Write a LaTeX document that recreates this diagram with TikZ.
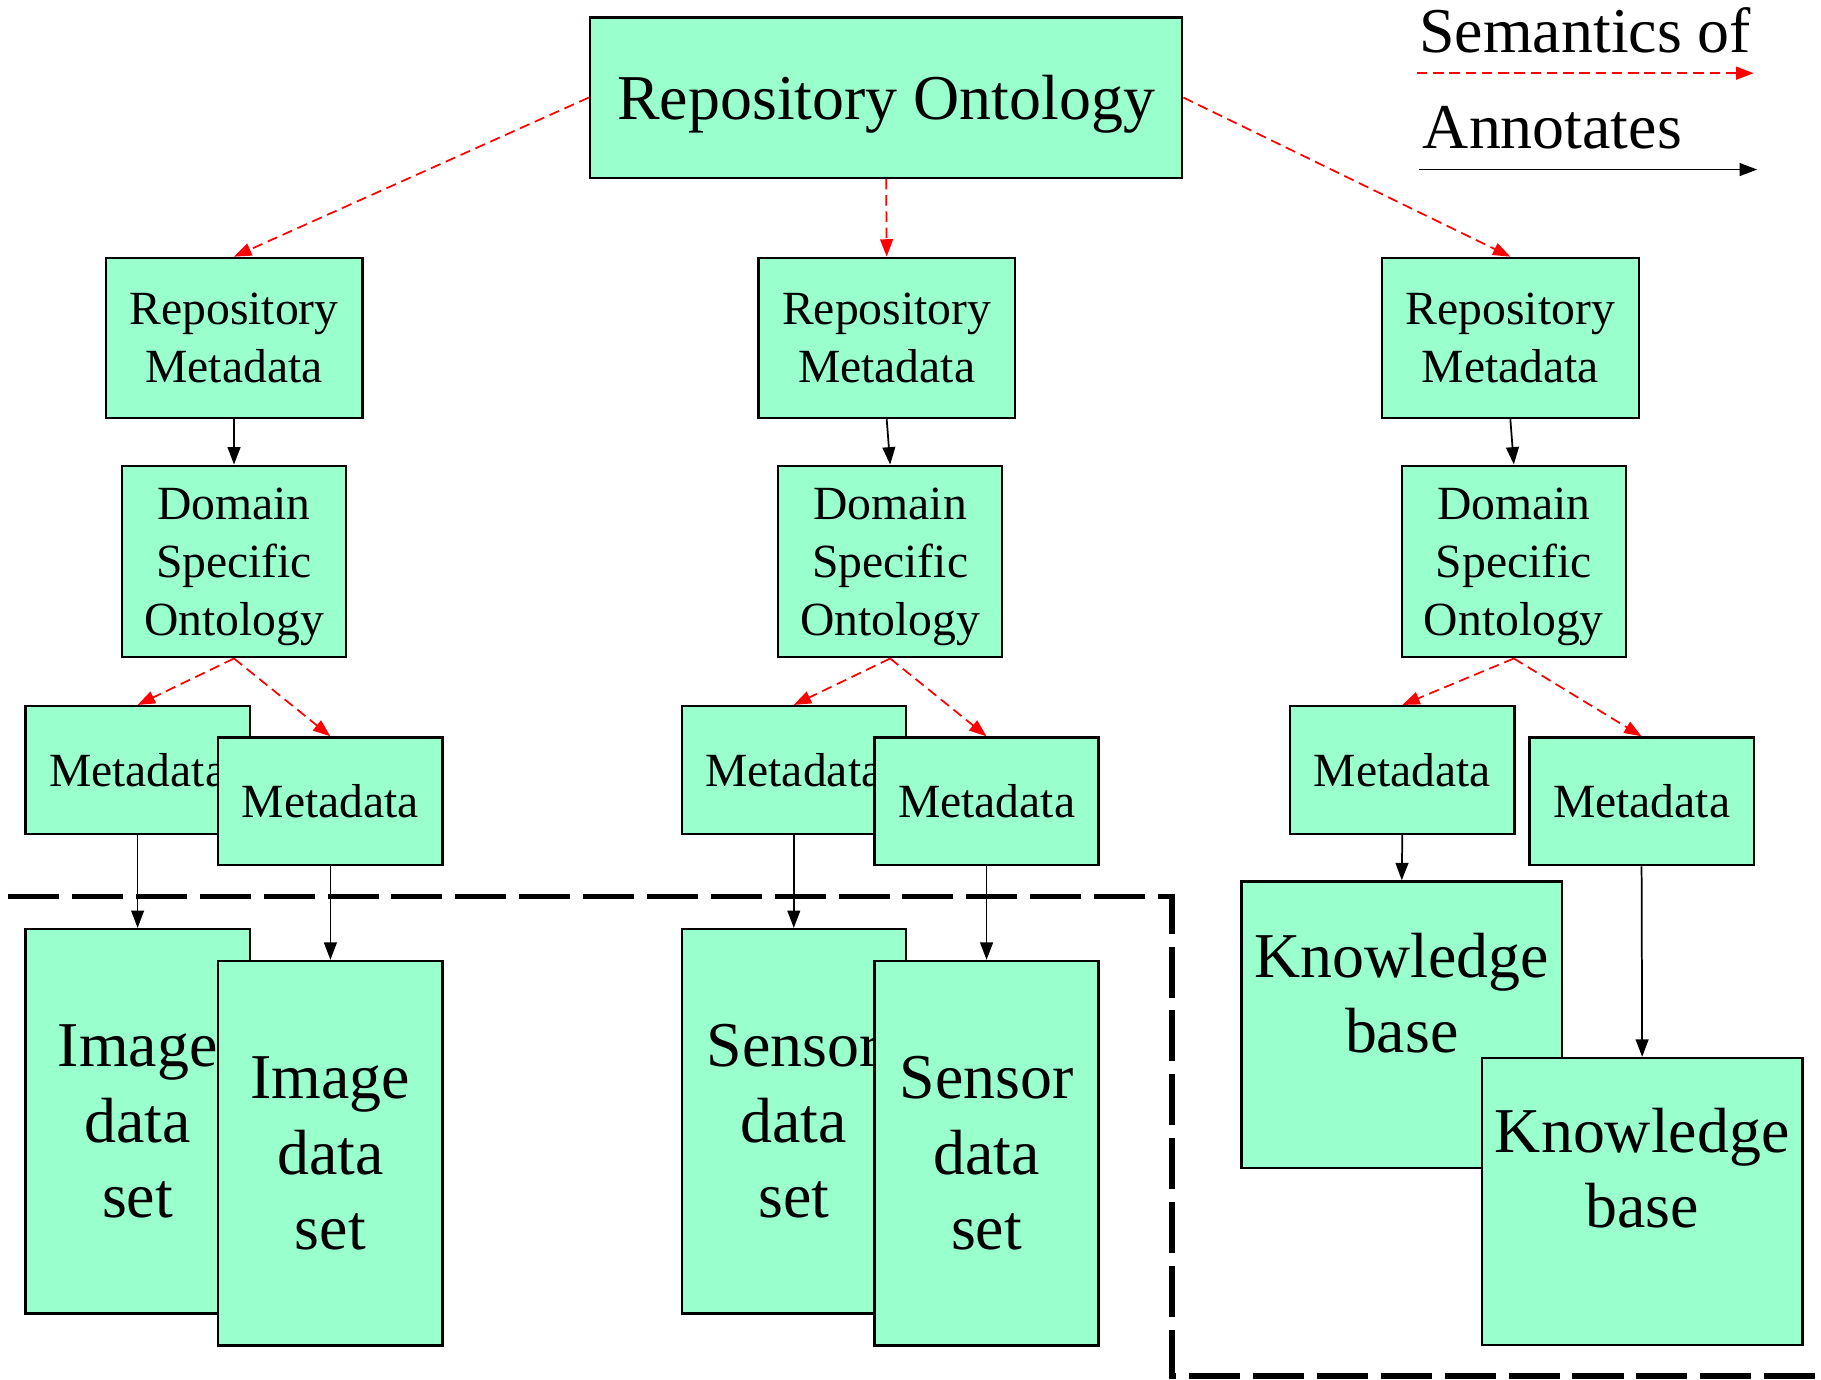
\documentclass[tikz,border=0pt]{standalone}
\usepackage{fontspec}
\setmainfont{Liberation Serif}
\usetikzlibrary{arrows.meta}
\definecolor{boxgreen}{HTML}{99FFCC}

\begin{document}
\begin{tikzpicture}[x=1pt, y=-1pt,
    box/.style={draw=black, line width=2pt, fill=boxgreen, inner sep=0pt, align=center,
        text depth=0pt, font=\fontsize{41}{50}\selectfont},
    bigbox/.style={box, font=\fontsize{55}{65}\selectfont},
    bigtext/.style={inner sep=0pt, align=center, font=\fontsize{55}{65}\selectfont},
    semantic/.style={red, line width=1.5pt, dash pattern=on 9pt off 5pt,
        -{Triangle[length=15pt, width=11pt]}},
    annot/.style={black, line width=1.5pt, -{Triangle[length=15pt, width=11pt]}}]
    \useasboundingbox (0,0) rectangle (1568,1188);
    % Repository ontology
    \node[bigbox, minimum width=510, minimum height=138] (ro) at (763,84) {Repository Ontology};
    % Repository metadata
    \node[box, minimum width=221, minimum height=138] (rmA) at (201.5,291) {Repository\\Metadata};
    \node[box, minimum width=221, minimum height=138] (rmB) at (763.5,291) {Repository\\Metadata};
    \node[box, minimum width=221, minimum height=138] (rmC) at (1300.5,291) {Repository\\Metadata};
    % Domain specific ontologies
    \node[box, minimum width=193, minimum height=165] (dsoA) at (201.5,483.5) {Domain\\Specific\\Ontology};
    \node[box, minimum width=193, minimum height=165] (dsoB) at (766.5,483.5) {Domain\\Specific\\Ontology};
    \node[box, minimum width=193, minimum height=165] (dsoC) at (1303.5,483.5) {Domain\\Specific\\Ontology};
    % Metadata pairs
    \node[box, minimum width=193, minimum height=110] (mdA1) at (118.5,663) {Metadata};
    \node[box, minimum width=193, minimum height=110] (mdA2) at (284.5,690) {Metadata};
    \node[box, minimum width=193, minimum height=110] (mdB1) at (683.5,663) {Metadata};
    \node[box, minimum width=193, minimum height=110] (mdB2) at (849.5,690) {Metadata};
    \node[box, minimum width=193, minimum height=110] (mdC1) at (1207.5,663) {Metadata};
    \node[box, minimum width=193, minimum height=110] (mdC2) at (1413.5,690) {Metadata};
    % Data sets
    \node[bigbox, minimum width=193, minimum height=331] (imgA) at (118.5,965.5) {Image\\data\\set};
    \node[bigbox, minimum width=193, minimum height=331] (imgB) at (284.5,993) {Image\\data\\set};
    \node[bigbox, minimum width=193, minimum height=331] (senA) at (683.5,965.5) {Sensor\\data\\set};
    \node[bigbox, minimum width=193, minimum height=331] (senB) at (849.5,993) {Sensor\\data\\set};
    % Knowledge bases
    \node[box, minimum width=276, minimum height=247] (kbA) at (1207,882.5) {};
    \node[bigtext] (kbAtext) at (1207,855) {Knowledge\\base};
    \node[box, minimum width=276, minimum height=247] (kbB) at (1414,1034.5) {};
    \node[bigtext] (kbBtext) at (1414,1006) {Knowledge\\base};
    % Boundary
    \draw[black, line width=5pt, dash pattern=on 44pt off 11pt] (7,772) -| (1009,1185) -- (1568,1185);
    % Semantics of
    \draw[semantic] (ro.west) -- (rmA.north);
    \draw[semantic] (ro.south) -- (rmB.north);
    \draw[semantic] (ro.east) -- (rmC.north);
    \draw[semantic] (dsoA.south) -- (mdA1.north);
    \draw[semantic] (dsoA.south) -- (mdA2.north);
    \draw[semantic] (dsoB.south) -- (mdB1.north);
    \draw[semantic] (dsoB.south) -- (mdB2.north);
    \draw[semantic] (dsoC.south) -- (mdC1.north);
    \draw[semantic] (dsoC.south) -- (mdC2.north);
    % Annotates
    \draw[annot] (rmA.south) -- (dsoA.north);
    \draw[annot] (rmB.south) -- (dsoB.north);
    \draw[annot] (rmC.south) -- (dsoC.north);
    \draw[annot] (mdA1.south) -- (imgA.north);
    \draw[annot] (mdA2.south) -- (imgB.north);
    \draw[annot] (mdB1.south) -- (senA.north);
    \draw[annot] (mdB2.south) -- (senB.north);
    \draw[annot] (mdC1.south) -- (kbA.north);
    \draw[annot] (mdC2.south) -- (kbB.north);
    % Legend
    \node[bigtext, anchor=base west] (semkey) at (1222,45) {Semantics of};
    \node[bigtext, anchor=base west] (annkey) at (1225,128) {Annotates};
    \coordinate (semA) at (1220,63);
    \coordinate (semB) at (1510,63);
    \coordinate (annA) at (1222,146);
    \coordinate (annB) at (1513,146);
    \draw[semantic] (semA) -- (semB);
    \draw[annot] (annA) -- (annB);
\end{tikzpicture}
\end{document}
